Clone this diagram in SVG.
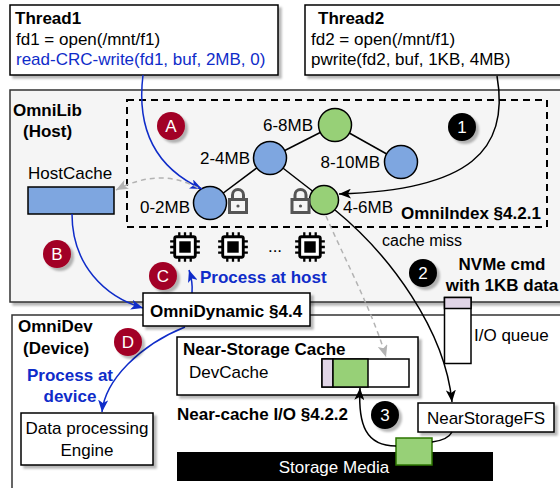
<svg xmlns="http://www.w3.org/2000/svg" width="560" height="488" viewBox="0 0 560 488">
<defs>
<style>
text{font-family:"Liberation Sans",Arial,sans-serif;font-size:17px;fill:#000}
.b{font-weight:bold}
.blue{fill:#0f2cc9}
.w{fill:#fff}
.mid{text-anchor:middle}
.end{text-anchor:end}
.box{fill:#fff;stroke:#000;stroke-width:1.5}
.blu{fill:#7ea6e0;stroke:#000;stroke-width:1.5}
.grn{fill:#97d077;stroke:#000;stroke-width:1.5}
.pur{fill:#e1d5e7;stroke:#000;stroke-width:1.5}
.edge{stroke:#000;stroke-width:1.5}
.cb{fill:none;stroke:#0f2cc9;stroke-width:1.5}
.ck{fill:none;stroke:#000;stroke-width:1.5}
.cg{fill:none;stroke:#b3b3b3;stroke-width:1.5;stroke-dasharray:5,4}
.lock{fill:none;stroke:#555;stroke-width:3}
.red{fill:#a20025}
.blk{fill:#000}
</style>
<filter id="sh" x="-10%" y="-10%" width="130%" height="140%">
<feDropShadow dx="3" dy="3" stdDeviation="1" flood-color="#000" flood-opacity="0.28"/>
</filter>
<marker id="ab" viewBox="0 0 12 10" refX="12" refY="5" markerWidth="12" markerHeight="10" markerUnits="userSpaceOnUse" orient="auto"><path d="M0 0 L12 5 L0 10 L3 5 Z" fill="#0f2cc9"/></marker>
<marker id="ak" viewBox="0 0 12 10" refX="12" refY="5" markerWidth="12" markerHeight="10" markerUnits="userSpaceOnUse" orient="auto"><path d="M0 0 L12 5 L0 10 L3 5 Z" fill="#000"/></marker>
<marker id="ag" viewBox="0 0 12 10" refX="12" refY="5" markerWidth="12" markerHeight="10" markerUnits="userSpaceOnUse" orient="auto"><path d="M0 0 L12 5 L0 10 L3 5 Z" fill="#b3b3b3"/></marker>
<symbol id="chip" viewBox="-14 -14 28 28" overflow="visible">
<rect x="-9" y="-9" width="18" height="18" rx="1.5" fill="#fff" stroke="#000" stroke-width="2.5"/>
<rect x="-5" y="-5" width="10" height="10" fill="#000"/>
<path d="M-5 -9V-13M0 -9V-13M5 -9V-13M-5 9V13M0 9V13M5 9V13M-9 -5H-13M-9 0H-13M-9 5H-13M9 -5H13M9 0H13M9 5H13" stroke="#000" stroke-width="2"/>
</symbol>
</defs>

<g id="omnilib">
<rect x="10" y="90" width="570" height="212" fill="#f5f5f5" stroke="#333" stroke-width="1.5" filter="url(#sh)"/>
<text x="13" y="116" class="b">OmniLib</text>
<text x="23" y="137" class="b">(Host)</text>
</g>
<g id="omnidev">
<rect x="12" y="315" width="570" height="200" fill="#fff" stroke="#333" stroke-width="1.5"/>
<text x="18" y="332" class="b">OmniDev</text>
<text x="23" y="354" class="b">(Device)</text>
</g>

<g id="thread1">
<rect x="10" y="5" width="268" height="70" class="box" filter="url(#sh)"/>
<text x="15" y="24" class="b">Thread1</text>
<text x="16" y="45">fd1 = open(/mnt/f1)</text>
<text x="16" y="65" class="blue">read-CRC-write(fd1, buf, 2MB, 0)</text>
</g>
<g id="thread2">
<rect x="305" y="5" width="270" height="70" class="box" filter="url(#sh)"/>
<text x="318" y="24" class="b">Thread2</text>
<text x="311" y="45">fd2 = open(/mnt/f1)</text>
<text x="311" y="65">pwrite(fd2, buf, 1KB, 4MB)</text>
</g>

<g id="omniindex">
<rect x="127" y="100" width="420" height="127" fill="none" stroke="#000" stroke-width="2" stroke-dasharray="7,5"/>
<text x="401" y="219" class="b">OmniIndex §4.2.1</text>
</g>

<g id="tree-edges">
<line x1="335" y1="125" x2="270" y2="158" class="edge"/>
<line x1="335" y1="125" x2="401" y2="162" class="edge"/>
<line x1="270" y1="158" x2="210" y2="203" class="edge"/>
<line x1="270" y1="158" x2="324" y2="200" class="edge"/>
</g>
<g id="n68"><circle cx="335" cy="125" r="16.5" class="grn"/><text x="313" y="131" class="end">6-8MB</text></g>
<g id="n24"><circle cx="270" cy="158" r="16.5" class="blu"/><text x="250" y="164" class="end">2-4MB</text></g>
<g id="n810"><circle cx="401" cy="162" r="16.5" class="blu"/><text x="380" y="168" class="end">8-10MB</text></g>
<g id="n02"><circle cx="210" cy="203" r="16.5" class="blu"/><text x="190" y="213" class="end">0-2MB</text></g>
<g id="n46"><circle cx="324" cy="200" r="14.5" class="grn"/><text x="343" y="213">4-6MB</text></g>

<g id="lock1">
<path d="M232.5 199V195A5.5 5.5 0 0 1 243.5 195V199" class="lock"/>
<rect x="229.5" y="199.5" width="17" height="13" fill="#f5f5f5" stroke="#555" stroke-width="3"/>
<circle cx="238" cy="206" r="1.6" fill="#555"/>
</g>
<g id="lock2">
<path d="M295 199V195A5.5 5.5 0 0 1 306 195V199" class="lock"/>
<rect x="292" y="199.5" width="17" height="13" fill="#f5f5f5" stroke="#555" stroke-width="3"/>
<circle cx="300.5" cy="206" r="1.6" fill="#555"/>
</g>

<g id="hostcache">
<text x="28" y="179">HostCache</text>
<rect x="28" y="187" width="86" height="27" class="blu"/>
</g>

<g id="cpus">
<use href="#chip" x="169" y="231" width="32" height="32"/>
<use href="#chip" x="217" y="231" width="32" height="32"/>
<text x="275" y="252" class="mid">...</text>
<use href="#chip" x="294" y="231" width="32" height="32"/>
<text x="200" y="283" class="b blue">Process at host</text>
</g>

<g id="labels">
<text x="382" y="246" style="font-size:16px">cache miss</text>
<text x="502" y="270" class="b mid">NVMe cmd</text>
<text x="502" y="291" class="b mid">with 1KB data</text>
<text x="70" y="381" class="b blue mid">Process at</text>
<text x="70" y="402" class="b blue mid">device</text>
<text x="177" y="420" class="b">Near-cache I/O §4.2.2</text>
</g>

<g id="ioqueue">
<rect x="444.5" y="297.5" width="26.5" height="66" class="box"/>
<rect x="444.5" y="297.5" width="26.5" height="11" class="pur"/>
<text x="474" y="341">I/O queue</text>
</g>

<g id="nearcache">
<rect x="177" y="337" width="241" height="58" class="box" filter="url(#sh)"/>
<text x="183" y="355" class="b">Near-Storage Cache</text>
<text x="189" y="378">DevCache</text>
<rect x="322" y="359" width="87" height="28" class="box"/>
<rect x="322" y="359" width="11" height="28" class="pur"/>
<rect x="333" y="359" width="35" height="28" class="grn"/>
</g>

<g id="engine">
<rect x="21" y="413" width="132" height="52" class="box" filter="url(#sh)"/>
<text x="87" y="434" class="mid">Data processing</text>
<text x="87" y="456" class="mid">Engine</text>
</g>

<g id="nearstoragefs">
<rect x="418" y="403" width="136" height="29" class="box" filter="url(#sh)"/>
<text x="486" y="424" class="mid">NearStorageFS</text>
</g>

<g id="storage">
<rect x="177" y="452" width="316" height="29" fill="#000"/>
<text x="334" y="473" class="w mid">Storage Media</text>
<rect x="396" y="438" width="36" height="27" fill="#97d077" stroke="#2d7600" stroke-width="1.5"/>
</g>

<g id="connectors">
<path d="M143 75C135 140 165 172 202 189" class="cb" marker-end="url(#ab)"/>
<path d="M497 76C510 150 470 190 339 194" class="ck" marker-end="url(#ak)"/>
<path d="M198 188Q160 167 116 190" class="cg" marker-end="url(#ag)"/>
<path d="M326 216C345 260 372 310 386 357" class="cg" marker-end="url(#ag)"/>
<path d="M335 210C390 255 445 330 452 402" class="ck" marker-end="url(#ak)"/>
<path d="M72 214C72 265 105 297 143 308" class="cb" marker-end="url(#ab)"/>
<path d="M192 293Q193 282 189 270" class="cb" marker-end="url(#ab)"/>
<path d="M185 327C140 345 105 380 102 412" class="cb" marker-end="url(#ab)"/>
<path d="M396 446C366 446 358 425 360 388" class="ck" marker-end="url(#ak)"/>
<path d="M452 432Q448 440 432 442" class="ck"/>
</g>

<g id="omnidynamic">
<rect x="143" y="293" width="167" height="33" class="box" filter="url(#sh)"/>
<text x="150" y="317" class="b">OmniDynamic §4.4</text>
</g>

<g id="badges">
<g filter="url(#sh)">
<circle cx="171" cy="126" r="14" class="red"/>
<circle cx="57" cy="254" r="14" class="red"/>
<circle cx="163" cy="276" r="14" class="red"/>
<circle cx="128" cy="342" r="14" class="red"/>
<circle cx="462" cy="127" r="14" class="blk"/>
<circle cx="423" cy="273" r="14" class="blk"/>
<circle cx="385" cy="415" r="14" class="blk"/>
</g>
<text x="171" y="132" class="w mid">A</text>
<text x="57" y="260" class="w mid">B</text>
<text x="163" y="282" class="w mid">C</text>
<text x="128" y="348" class="w mid">D</text>
<text x="462" y="133" class="w mid">1</text>
<text x="423" y="279" class="w mid">2</text>
<text x="385" y="421" class="w mid">3</text>
</g>
</svg>
